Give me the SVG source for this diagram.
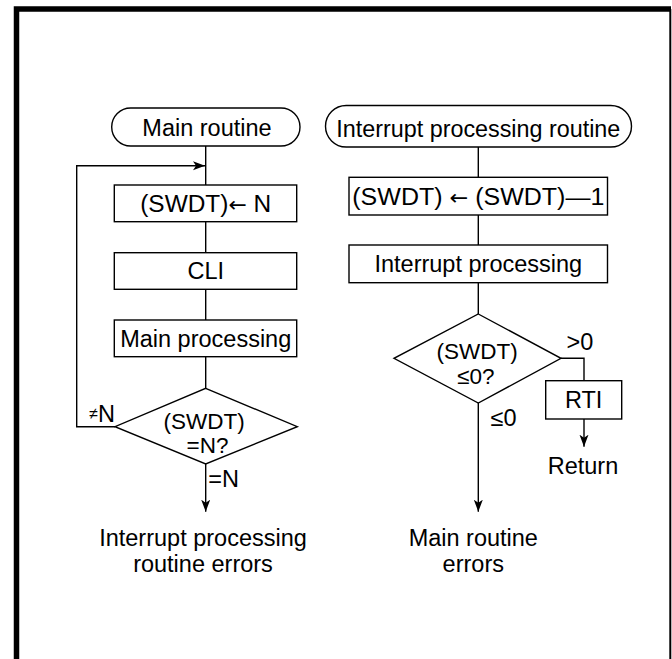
<svg xmlns="http://www.w3.org/2000/svg" width="672" height="659" viewBox="0 0 672 659">
<style>
  text { font-family: "Liberation Sans", Arial, sans-serif; font-size: 23.5px; fill: #000; }
  .c { text-anchor: middle; }
  .e { text-anchor: end; }
  .d { font-size: 22.5px; }
  .ar { font-family: "DejaVu Sans", sans-serif; font-size: 21px; }
  .shape { fill: #fff; stroke: #000; stroke-width: 1.4; }
  .line { fill: none; stroke: #000; stroke-width: 1.4; }
</style>
<defs>
  <marker id="arr" markerUnits="userSpaceOnUse" markerWidth="14" markerHeight="10" refX="12" refY="4.5" orient="auto">
    <path d="M0,0 L12,4.5 L0,9 L3,4.5 z" fill="#000"/>
  </marker>
</defs>
<rect x="0" y="0" width="672" height="659" fill="#fff"/>
<g id="frame">
  <path d="M16.5,659 V9 H671" fill="none" stroke="#000" stroke-width="5.5"/>
  <line x1="670.3" y1="9" x2="670.3" y2="659" stroke="#000" stroke-width="2"/>
</g>
<g id="connectors">
  <line class="line" x1="205.7" y1="146" x2="205.7" y2="185"/>
  <path class="line" d="M115,426.7 H76.7 V165.7 H205" marker-end="url(#arr)"/>
  <line class="line" x1="205.7" y1="221.7" x2="205.7" y2="252.7"/>
  <line class="line" x1="205.7" y1="289.3" x2="205.7" y2="320"/>
  <line class="line" x1="205.7" y1="356.7" x2="205.7" y2="388.3"/>
  <line class="line" x1="205.7" y1="464" x2="205.7" y2="511.7" marker-end="url(#arr)"/>
  <line class="line" x1="478.3" y1="147" x2="478.3" y2="177.3"/>
  <line class="line" x1="478.3" y1="215" x2="478.3" y2="245"/>
  <line class="line" x1="478.3" y1="282.7" x2="478.3" y2="314"/>
  <path class="line" d="M561,358.3 H584 V380.7"/>
  <line class="line" x1="584" y1="419" x2="584" y2="446.7" marker-end="url(#arr)"/>
  <line class="line" x1="478.3" y1="403" x2="478.3" y2="511.7" marker-end="url(#arr)"/>
</g>
<g id="label-ne">
  <text x="115" y="421.7" class="e"><tspan font-size="16" dy="-3">≠</tspan><tspan dy="3">N</tspan></text>
</g>
<g id="label-eq">
  <text x="208.3" y="487">=N</text>
</g>
<g id="label-gt">
  <text x="566.5" y="349.5">&gt;0</text>
</g>
<g id="label-le">
  <text x="490.5" y="425.5">≤0</text>
</g>
<g id="main-routine">
  <rect class="shape" x="111.7" y="108" width="188.3" height="38" rx="19" ry="19"/>
  <text x="207" y="136" class="c">Main routine</text>
</g>
<g id="set-swdt">
  <rect class="shape" x="114.3" y="185" width="182.4" height="36.7"/>
  <text x="205.7" y="211.7" class="c" textLength="131" lengthAdjust="spacingAndGlyphs">(SWDT)<tspan class="ar">←</tspan> N</text>
</g>
<g id="cli">
  <rect class="shape" x="114.3" y="252.7" width="182.4" height="36.6"/>
  <text x="205.7" y="279.4" class="c">CLI</text>
</g>
<g id="main-processing">
  <rect class="shape" x="114.3" y="320" width="182.4" height="36.7"/>
  <text x="205.7" y="346.7" class="c">Main processing</text>
</g>
<g id="check-n">
  <polygon class="shape" points="205.7,388.3 297.3,426.7 205.7,464 115,426.7"/>
  <text x="204.2" y="428.5" class="c d">(SWDT)</text>
  <text x="207.5" y="452.5" class="c d">=N?</text>
</g>
<g id="err-left">
  <text x="203" y="545.5" class="c">Interrupt processing</text>
  <text x="203" y="571.5" class="c">routine errors</text>
</g>
<g id="int-routine">
  <rect class="shape" x="325.5" y="105.5" width="306" height="41.5" rx="20.7" ry="20.7"/>
  <text x="478.3" y="136.5" class="c" textLength="284" lengthAdjust="spacingAndGlyphs">Interrupt processing routine</text>
</g>
<g id="dec-swdt">
  <rect class="shape" x="349" y="177.3" width="258.5" height="37.7"/>
  <text x="478.3" y="204.5" class="c" textLength="252" lengthAdjust="spacingAndGlyphs">(SWDT) <tspan class="ar">←</tspan> (SWDT)—1</text>
</g>
<g id="int-processing">
  <rect class="shape" x="349" y="245" width="258.5" height="37.7"/>
  <text x="478.3" y="272.2" class="c">Interrupt processing</text>
</g>
<g id="check-zero">
  <polygon class="shape" points="478.3,314 561,358.3 478.3,403 394,358.3"/>
  <text x="477.2" y="358.5" class="c d">(SWDT)</text>
  <text x="475.8" y="384" class="c d">≤0?</text>
</g>
<g id="rti">
  <rect class="shape" x="545.7" y="380.7" width="76" height="38.3"/>
  <text x="583.7" y="408.2" class="c">RTI</text>
</g>
<g id="return">
  <text x="583" y="473.5" class="c">Return</text>
</g>
<g id="err-right">
  <text x="473.3" y="546" class="c">Main routine</text>
  <text x="473.3" y="571.5" class="c">errors</text>
</g>
</svg>
